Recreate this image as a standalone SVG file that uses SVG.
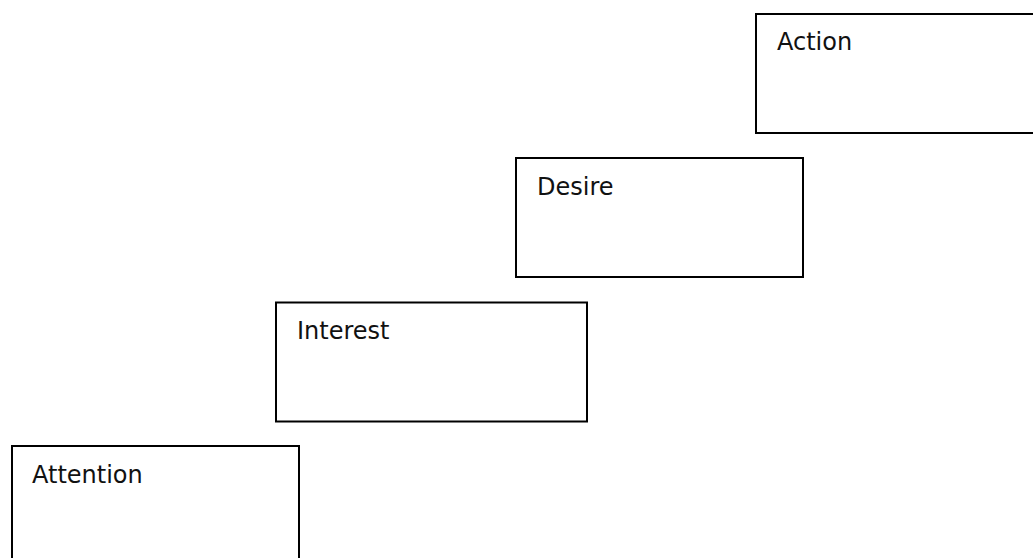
<svg xmlns="http://www.w3.org/2000/svg" width="1033" height="558" viewBox="0 0 1033 558">
  <style>
    .box { fill: #ffffff; stroke: #000000; stroke-width: 2; }
    .label { font-family: "DejaVu Sans", "Liberation Sans", sans-serif; font-size: 24px; fill: #111111; }
  </style>
  <rect width="1033" height="558" fill="#ffffff"/>
  <!-- AIDA stages, stepping upward left to right -->
  <g id="attention">
    <rect class="box" x="12" y="446" width="287" height="130"/>
    <text class="label" x="32" y="483">Attention</text>
  </g>
  <g id="interest">
    <rect class="box" x="276" y="302.5" width="311" height="119"/>
    <text class="label" x="297" y="339">Interest</text>
  </g>
  <g id="desire">
    <rect class="box" x="516" y="158" width="287" height="119"/>
    <text class="label" x="537" y="195">Desire</text>
  </g>
  <g id="action">
    <rect class="box" x="756" y="14" width="300" height="119"/>
    <text class="label" x="777" y="50">Action</text>
  </g>
  <g id="connectors"/>
</svg>
